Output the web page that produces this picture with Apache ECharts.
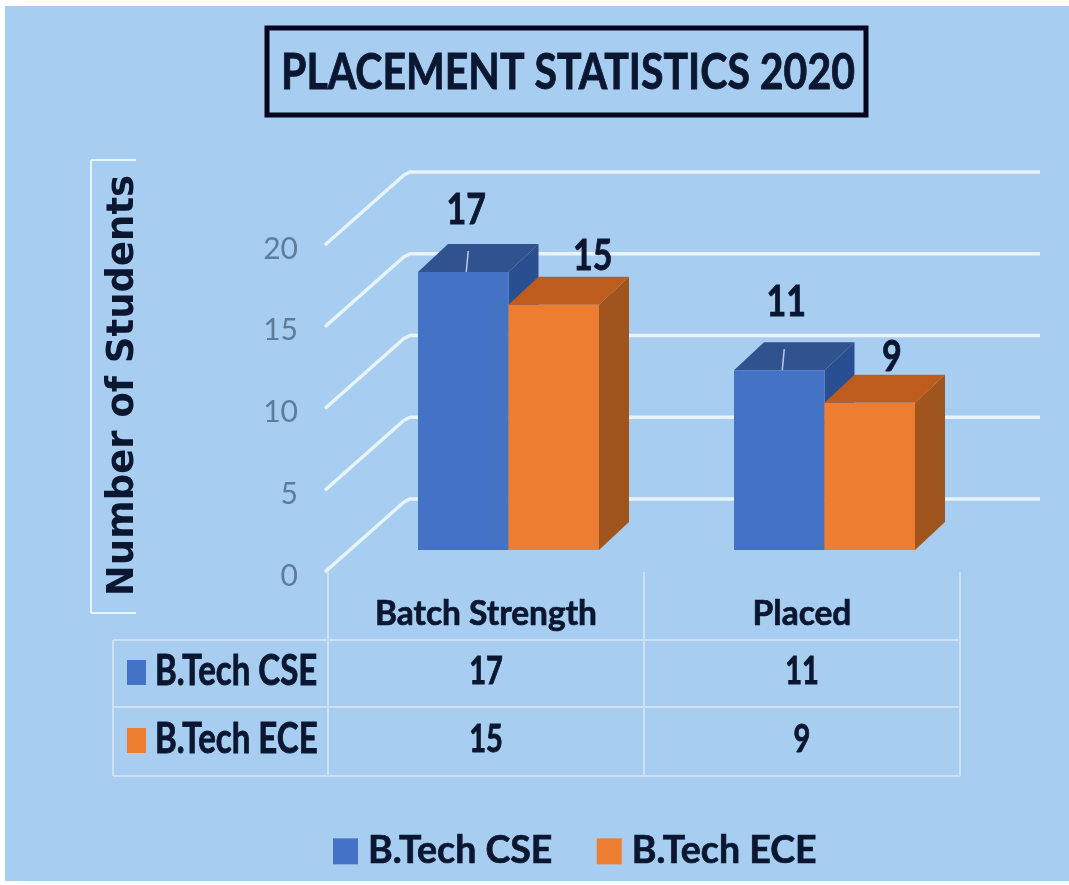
<!DOCTYPE html>
<html><head><meta charset="utf-8">
<style>
html,body{margin:0;padding:0;background:#fff;width:1069px;height:885px;overflow:hidden}
#bg{position:absolute;left:5px;top:6px;width:1064px;height:875px;background:#a7cef1}
#chart{position:absolute;left:0;top:0;width:1069px;height:885px;filter:blur(0.5px)}
</style>
<script src="https://cdn.jsdelivr.net/npm/echarts@6/dist/echarts.min.js"></script>
</head><body><div id="bg"></div><div id="chart"></div>
<script>
const titleText = 'PLACEMENT STATISTICS 2020';
const yAxisName = 'Number of Students';
const categories = ['Batch Strength', 'Placed'];
const cseName = 'B.Tech CSE';
const eceName = 'B.Tech ECE';
const cseValues = [17, 11];
const eceValues = [15, 9];
const yTicks = [0, 5, 10, 15, 20];

const FONT = 'Lato,sans-serif';
const INK = '#0b1730';
const GL = {left:328, top:245, width:632, height:327};
const DEPTH = {x:80, y:-73};
const BAR_SHIFT = {x:22.5, y:-22};
const BAR_D = {x:30, y:-28};
const BAR_W = 90.5/316;
const ROW_Y = [672, 740];

const PAL = [
  {front:'#4472c4', top:'#30528f', side:'#2a4f90'},
  {front:'#ed7d31', top:'#bd5c1c', side:'#a0551f'}
];
// hand-read label placement relative to each bar's front top corner
const LABEL_NUDGE = [
  [{x:3,y:-62},{x:7,y:-68}],
  [{x:39,y:-48},{x:22,y:-46}]
];

function poly(pts, fill){
  return {type:'polygon', shape:{points:pts}, style:{fill:fill, stroke:null}};
}
function tallText(x, y, text, size, sy, align){
  return {type:'text', x:x, y:y, scaleY:sy,
    style:{text:text, font:'bold '+size+'px '+FONT, fill:INK, stroke:INK, lineWidth:0.7, align:align||'center', verticalAlign:'middle'}};
}
function barRenderer(si, name){
  return function(params, api){
    const cat = api.value(0), val = api.value(1);
    const i = params.dataIndex;
    const top = api.coord([cat, val]);
    const base = api.coord([cat, 0]);
    const w = api.size([1,0])[0]*BAR_W;
    const x0 = top[0] + BAR_SHIFT.x + (si===0 ? -w : 0);
    const x1 = x0 + w;
    const yT = top[1] + BAR_SHIFT.y;
    const yB = base[1] + BAR_SHIFT.y;
    const dx = BAR_D.x, dy = BAR_D.y;
    const c = PAL[si];
    const kids = [
      poly([[x1,yT],[x1+dx,yT+dy],[x1+dx,yB+dy],[x1,yB]], c.side),
      poly([[x0,yT],[x0+dx,yT+dy],[x1+dx,yT+dy],[x1,yT]], c.top),
      poly([[x0,yT],[x1,yT],[x1,yB],[x0,yB]], c.front)
    ];
    if(si===0){
      const mx = (x0+x1)/2+3;
      kids.push({type:'line',shape:{x1:mx+2,y1:yT+dy+7,x2:mx,y2:yT},style:{stroke:'rgba(235,243,252,.75)',lineWidth:1.5}});
    }
    const n = LABEL_NUDGE[si][i];
    kids.push(tallText((x0+x1)/2+n.x, yT+n.y, String(val), 34, 1.25));
    kids.push(tallText(top[0], ROW_Y[si], String(val), 29, 1.3));
    if(i===0){
      kids.push({type:'rect',shape:{x:127,y:ROW_Y[si]-12,width:19,height:25},style:{fill:c.front}});
      kids.push(tallText(155, ROW_Y[si], name, 33, 1.25, 'left'));
    }
    return {type:'group',children:kids};
  };
}
function gridRenderer(params, api){
  const v = api.value(0);
  const p = api.coord([0, v]);
  const y = p[1], x = GL.left-3;
  return {type:'polyline',
    shape:{points:[[x,y],[GL.left+DEPTH.x-4,y+DEPTH.y+3],[GL.left+DEPTH.x+2,y+DEPTH.y],[1040,y+DEPTH.y]]},
    style:{stroke:'#e9f3fc',lineWidth:3.5,fill:null,lineJoin:'round'},silent:true};
}
const lineC = '#cfe0f0';
function seg(x1,y1,x2,y2,c,w){return {type:'line',shape:{x1,y1,x2,y2},style:{stroke:c||lineC,lineWidth:w||2},silent:true};}

const chart = echarts.init(document.getElementById('chart'), null, {renderer:'canvas'});
chart.setOption({
  animation:false,
  backgroundColor:'transparent',
  textStyle:{fontFamily:FONT},
  legend:{data:[cseName,eceName],left:328,top:827,icon:'rect',itemWidth:25,itemHeight:26,itemGap:44,selectedMode:false,
    textStyle:{fontFamily:FONT,fontWeight:'bold',fontSize:37.5,color:INK,padding:[0,0,0,5],textBorderColor:INK,textBorderWidth:0.7}},
  grid:{left:GL.left,top:GL.top,width:GL.width,height:GL.height,containLabel:false},
  xAxis:{type:'category',data:categories,axisLine:{show:false},axisTick:{show:false},splitLine:{show:false},
    axisLabel:{margin:25,fontFamily:FONT,fontWeight:'bold',fontSize:33.5,color:INK,textBorderColor:INK,textBorderWidth:0.7}},
  yAxis:{type:'value',min:0,max:20,interval:5,name:yAxisName,nameLocation:'middle',nameGap:186,nameRotate:90,
    nameTextStyle:{fontFamily:'"DejaVu Sans",sans-serif',fontWeight:'bold',fontSize:37,color:INK,padding:[0,0,0,46]},
    axisLine:{show:false},axisTick:{show:false},splitLine:{show:false},
    axisLabel:{margin:30,fontFamily:FONT,fontSize:30,color:'#5d7c99',verticalAlign:'top',lineHeight:8}},
  graphic:[
    {type:'rect',shape:{x:267,y:28,width:599,height:87},style:{fill:null,stroke:'#05051e',lineWidth:5}},
    {type:'text',x:568,y:73,scaleY:1.22,style:{text:titleText,font:'bold 41px '+FONT,fill:INK,stroke:INK,lineWidth:0.7,align:'center',verticalAlign:'middle'}},
    seg(91,160,91,613,'#e9f3fc',2), seg(91,160,136,160,'#e9f3fc',2), seg(91,613,136,613,'#e9f3fc',2),
    seg(113,640,960,640), seg(113,707,960,707), seg(113,776,960,776),
    seg(113,640,113,776), seg(328,572,328,776), seg(644,572,644,776), seg(960,572,960,776)
  ],
  series:[
    {type:'custom',name:'gridlines',coordinateSystem:'cartesian2d',z:1,encode:{y:0},
     data:yTicks.map(v=>[v]),renderItem:gridRenderer,silent:true,tooltip:{show:false}},
    {type:'custom',name:cseName,coordinateSystem:'cartesian2d',z:3,itemStyle:{color:PAL[0].front},encode:{x:0,y:1},
     data:cseValues.map((v,i)=>[i,v]),renderItem:barRenderer(0,cseName)},
    {type:'custom',name:eceName,coordinateSystem:'cartesian2d',z:4,itemStyle:{color:PAL[1].front},encode:{x:0,y:1},
     data:eceValues.map((v,i)=>[i,v]),renderItem:barRenderer(1,eceName)}
  ]
});
</script></body></html>
